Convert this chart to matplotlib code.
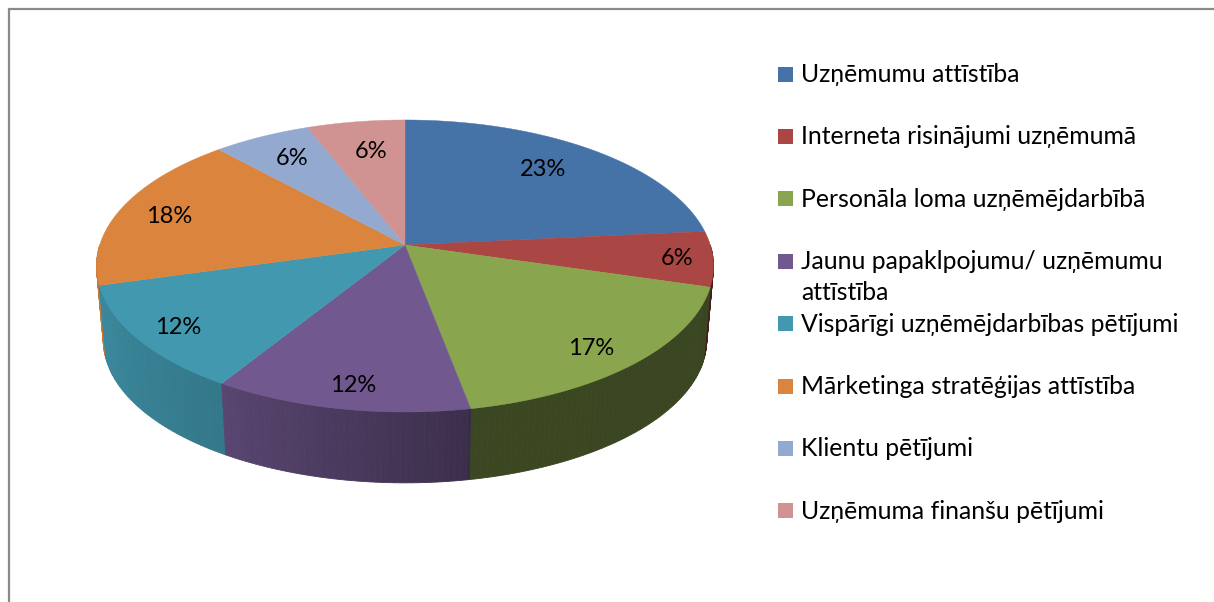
import numpy as np
import matplotlib
matplotlib.use('Agg')
import matplotlib.pyplot as plt

plt.rcParams['font.family'] = ['Lato', 'Noto Sans', 'DejaVu Sans']

categories = ['Uzņēmumu attīstība', 'Interneta risinājumi uzņēmumā', 'Personāla loma uzņēmējdarbībā',
              'Jaunu papaklpojumu/ uzņēmumu\nattīstība', 'Vispārīgi uzņēmējdarbības pētījumi',
              'Mārketinga stratēģijas attīstība', 'Klientu pētījumi', 'Uzņēmuma finanšu pētījumi']
values = [23.49, 6.1, 17.49, 11.8, 11.8, 17.6, 5.9, 5.9]
colors = ['#4572A7', '#AA4643', '#89A54E', '#71588F', '#4198AF', '#DB843D', '#93A9CF', '#D19392']

# where the percent labels sit, canvas pixels
label_xy = [(543, 169.5), (677, 258.5), (591, 348.5), (353, 385.5), (178, 327.5), (169, 216.5), (292, 158.5), (371, 151.5)]

# perspective of the disc
cx, cy = 405, 245
a, b, k = 305.3, 143.0, 0.1438
depth, shrink = 74.5, 0.978

# wall shading against angle (degrees, front half)
shade_ang = [-180, -164, -122, -80, -79, 0]
shade_val = [0.90, 0.90, 0.79, 0.53, 0.43, 0.42]


def project(theta, r=1.0, low=False):
    # theta in degrees, counter clockwise from the right
    t = np.radians(theta)
    c, s = r * np.cos(t), r * np.sin(t)
    d = 1 + k * s
    x, y = a * c / d, -b * s / d
    if low:
        return cx + shrink * x, cy + depth + shrink * y
    return cx + x, cy + y


fig = plt.figure(figsize=(12.14, 6.02), dpi=100)
ax = fig.add_axes([0, 0, 1, 1])
ax.set_xlim(0, 1214)
ax.set_ylim(602, 0)
ax.axis('off')

# outer chart frame, only top and left are in the crop
ax.plot([8.5, 8.5, 1214], [602, 8.5, 8.5], color='#8a8a8a', lw=1.6, solid_joinstyle='miter')

edges = 90 - np.cumsum([0] + values) / sum(values) * 360

# walls: go from both sides to the front so the front ones end up on top
strips = []
for i, col in enumerate(colors):
    hi, lo = edges[i], edges[i + 1]
    hi2 = min(hi, 0)
    lo2 = max(lo, -180)
    # last slices wrap around past -180
    if hi2 <= lo2:
        continue
    angs = np.arange(lo2, hi2, 1.0)
    for t0 in angs:
        t1 = min(t0 + 1.0, hi2)
        strips.append((abs((t0 + t1) / 2 + 90), t0, t1, col))
strips.sort(key=lambda q: -q[0])

for _, t0, t1, col in strips:
    tt = np.linspace(t0, t1, 3)
    x1, y1 = project(tt)
    x2, y2 = project(tt[::-1], low=True)
    f = np.interp((t0 + t1) / 2, shade_ang, shade_val)
    rgb = np.array(matplotlib.colors.to_rgb(col)) * f
    ax.fill(np.r_[x1, x2], np.r_[y1, y2], color=rgb, lw=0.6)

# top of the disc
for i, col in enumerate(colors):
    tt = np.linspace(edges[i], edges[i + 1], 120)
    x, y = project(tt)
    ax.fill(np.r_[cx, x], np.r_[cy, y], color=col, lw=0.3)

for v, (lx, ly) in zip(values, label_xy):
    ax.text(lx, ly, f'{v:.0f}%', ha='center', va='center', fontsize=17, color='black')

# legend, rows are evenly spaced and the long entry wraps inside its slot
for i, (name, col) in enumerate(zip(categories, colors)):
    ly = 74 + i * 62.4
    ax.fill([778, 793, 793, 778], [ly - 7.5, ly - 7.5, ly + 7.5, ly + 7.5], color=col, lw=0)
    lines = name.split('\n')
    for j, line in enumerate(lines):
        ax.text(801, ly + 0.5 + j * 31, line, ha='left', va='center', fontsize=17.8, color='black')

fig.savefig('out.png', dpi=100)
